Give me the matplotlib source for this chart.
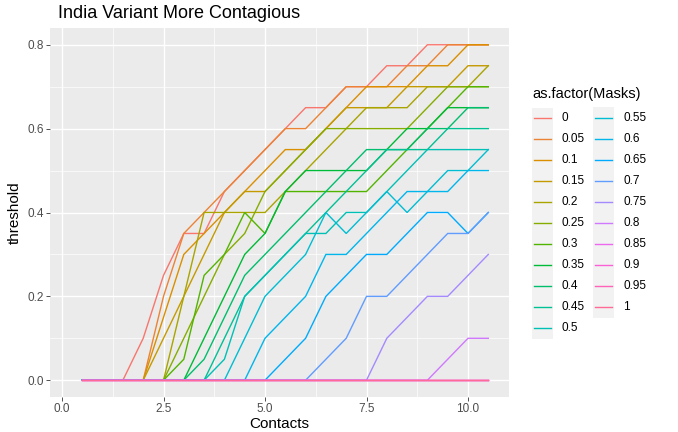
import numpy as np
import matplotlib
matplotlib.use("Agg")
import matplotlib.pyplot as plt
from matplotlib.lines import Line2D
from matplotlib.patches import Rectangle

contacts = [0.5, 1.0, 1.5, 2.0, 2.5, 3.0, 3.5, 4.0, 4.5, 5.0, 5.5,
            6.0, 6.5, 7.0, 7.5, 8.0, 8.5, 9.0, 9.5, 10.0, 10.5]
masks = ["0", "0.05", "0.1", "0.15", "0.2", "0.25", "0.3", "0.35", "0.4", "0.45", "0.5",
         "0.55", "0.6", "0.65", "0.7", "0.75", "0.8", "0.85", "0.9", "0.95", "1"]

m00 = [0, 0, 0, .10, .25, .35, .35, .45, .50, .55, .60, .65, .65, .70, .70, .75, .75, .80, .80, .80, .80]
m05 = [0, 0, 0, 0, .20, .35, .40, .45, .50, .55, .60, .60, .65, .70, .70, .70, .75, .75, .80, .80, .80]
m10 = [0, 0, 0, 0, .15, .30, .35, .40, .45, .50, .55, .55, .60, .65, .70, .70, .70, .75, .75, .80, .80]
m15 = [0, 0, 0, 0, .10, .20, .30, .40, .45, .45, .50, .55, .60, .65, .65, .65, .70, .70, .70, .75, .75]
m20 = [0, 0, 0, 0, 0, .20, .40, .40, .40, .40, .45, .50, .55, .60, .65, .65, .65, .70, .70, .70, .75]
m25 = [0, 0, 0, 0, 0, .10, .20, .30, .35, .45, .50, .55, .60, .60, .60, .60, .60, .65, .70, .70, .70]
m30 = [0, 0, 0, 0, 0, .05, .25, .30, .40, .35, .45, .45, .45, .45, .45, .50, .55, .60, .65, .70, .70]
m35 = [0, 0, 0, 0, 0, 0, .10, .20, .30, .35, .45, .50, .50, .50, .50, .55, .60, .60, .65, .65, .65]
m40 = [0, 0, 0, 0, 0, 0, .05, .15, .25, .30, .35, .40, .45, .50, .55, .55, .55, .60, .60, .65, .65]
m45 = [0, 0, 0, 0, 0, 0, 0, .10, .20, .25, .30, .35, .40, .45, .50, .55, .55, .55, .60, .60, .60]
m50 = [0, 0, 0, 0, 0, 0, 0, .05, .20, .25, .30, .35, .35, .40, .40, .45, .50, .55, .55, .55, .55]
m55 = [0, 0, 0, 0, 0, 0, 0, 0, .10, .20, .25, .30, .40, .35, .40, .45, .40, .45, .50, .50, .55]
m60 = [0, 0, 0, 0, 0, 0, 0, 0, 0, .10, .15, .20, .30, .30, .35, .40, .45, .45, .45, .50, .50]
m65 = [0, 0, 0, 0, 0, 0, 0, 0, 0, 0, .05, .10, .20, .25, .30, .30, .35, .40, .40, .35, .40]
m70 = [0, 0, 0, 0, 0, 0, 0, 0, 0, 0, 0, 0, .05, .10, .20, .20, .25, .30, .35, .35, .40]
m75 = [0, 0, 0, 0, 0, 0, 0, 0, 0, 0, 0, 0, 0, 0, 0, .10, .15, .20, .20, .25, .30]
m80 = [0, 0, 0, 0, 0, 0, 0, 0, 0, 0, 0, 0, 0, 0, 0, 0, 0, 0, .05, .10, .10]
m85 = [0] * 21
m90 = [0] * 21
m95 = [0] * 21
m100 = [0] * 21

series = [m00, m05, m10, m15, m20, m25, m30, m35, m40, m45, m50,
          m55, m60, m65, m70, m75, m80, m85, m90, m95, m100]


def hcl_hex(h, c=100.0, l=65.0):
    hr = np.deg2rad(h)
    u, v = c * np.cos(hr), c * np.sin(hr)
    Xn, Yn, Zn = 95.047, 100.0, 108.883
    un = 4 * Xn / (Xn + 15 * Yn + 3 * Zn)
    vn = 9 * Yn / (Xn + 15 * Yn + 3 * Zn)
    Y = Yn * ((l + 16) / 116) ** 3
    up = u / (13 * l) + un
    vp = v / (13 * l) + vn
    X = Y * 9 * up / (4 * vp)
    Z = Y * (12 - 3 * up - 20 * vp) / (4 * vp)
    X, Y, Z = X / 100, Y / 100, Z / 100
    r = 3.2404542 * X - 1.5371385 * Y - 0.4985314 * Z
    g = -0.9692660 * X + 1.8760108 * Y + 0.0415560 * Z
    b = 0.0556434 * X - 0.2040259 * Y + 1.0572252 * Z
    out = []
    for ch in (r, g, b):
        ch = 12.92 * ch if ch <= 0.0031308 else 1.055 * ch ** (1 / 2.4) - 0.055
        out.append(min(1, max(0, ch)))
    return tuple(out)


n = len(masks)
hues = np.linspace(15, 375, n + 1)[:n]
colors = [hcl_hex(h) for h in hues]

W, H = 678, 432
plt.rcParams['font.family'] = ['Liberation Sans', 'DejaVu Sans']
fig = plt.figure(figsize=(W / 100, H / 100), dpi=100)
fig.patch.set_facecolor('white')

pl, pr, pt, pb = 50, 509, 28, 397
ax = fig.add_axes([pl / W, 1 - pb / H, (pr - pl) / W, (pb - pt) / H])
ax.set_facecolor('#EBEBEB')
ax.set_xlim((pl - 62) / 40.6, (pr - 62) / 40.6)
ax.set_ylim(-0.04, 0.84)
for s in ax.spines.values():
    s.set_visible(False)

for xv in [1.25, 3.75, 6.25, 8.75]:
    ax.axvline(xv, color='white', lw=0.5, zorder=0)
for yv in [0.1, 0.3, 0.5, 0.7]:
    ax.axhline(yv, color='white', lw=0.5, zorder=0)
for xv in [0, 2.5, 5, 7.5, 10]:
    ax.axvline(xv, color='white', lw=1.0, zorder=0)
for yv in [0, 0.2, 0.4, 0.6, 0.8]:
    ax.axhline(yv, color='white', lw=1.0, zorder=0)

for i, (vals, col) in enumerate(zip(series, colors)):
    ax.plot(contacts, vals, color=col, lw=1.0, zorder=2 + i * 0.01, solid_joinstyle='miter')

ax.set_xticks([0, 2.5, 5, 7.5, 10])
ax.set_xticklabels(["0.0", "2.5", "5.0", "7.5", "10.0"])
ax.set_yticks([0, 0.2, 0.4, 0.6, 0.8])
ax.set_yticklabels(["0.0", "0.2", "0.4", "0.6", "0.8"])
ax.tick_params(axis='both', colors='#333333', labelcolor='#4D4D4D', labelsize=8.5,
               length=3, width=0.6, pad=1.5)
ax.set_xlabel("Contacts", fontsize=11, color='black', labelpad=1)
ax.set_ylabel("threshold", fontsize=11, color='black')
ax.yaxis.set_label_coords((22 - pl) / (pr - pl), 0.5)
fig.text(58 / W, 1 - 14 / H, "India Variant More Contagious", fontsize=13,
         ha='left', va='center', color='black')

# legend
fig.text(532 / W, 1 - 94 / H, "as.factor(Masks)", fontsize=10.5, ha='left', va='center')
row0, dy = 118, 21.0
cols = [(532, 562), (593, 623)]
for ci in range(2):
    nrows = 11 if ci == 0 else 10
    kx = cols[ci][0]
    fig.add_artist(Rectangle((kx / W, 1 - (row0 - 10.5 + nrows * dy) / H), 21 / W, nrows * dy / H,
                             transform=fig.transFigure, facecolor='#F2F2F2', edgecolor='none'))
for i, (lab, col) in enumerate(zip(masks, colors)):
    ci = 0 if i < 11 else 1
    r = i if i < 11 else i - 11
    y = row0 + r * dy
    kx, tx = cols[ci]
    fig.add_artist(Line2D([(kx + 2) / W, (kx + 19) / W], [1 - y / H, 1 - y / H],
                          transform=fig.transFigure, color=col, lw=1.0))
    fig.text(tx / W, 1 - y / H, lab, fontsize=8.5, ha='left', va='center', color='black')

fig.savefig("out.png", dpi=100)
